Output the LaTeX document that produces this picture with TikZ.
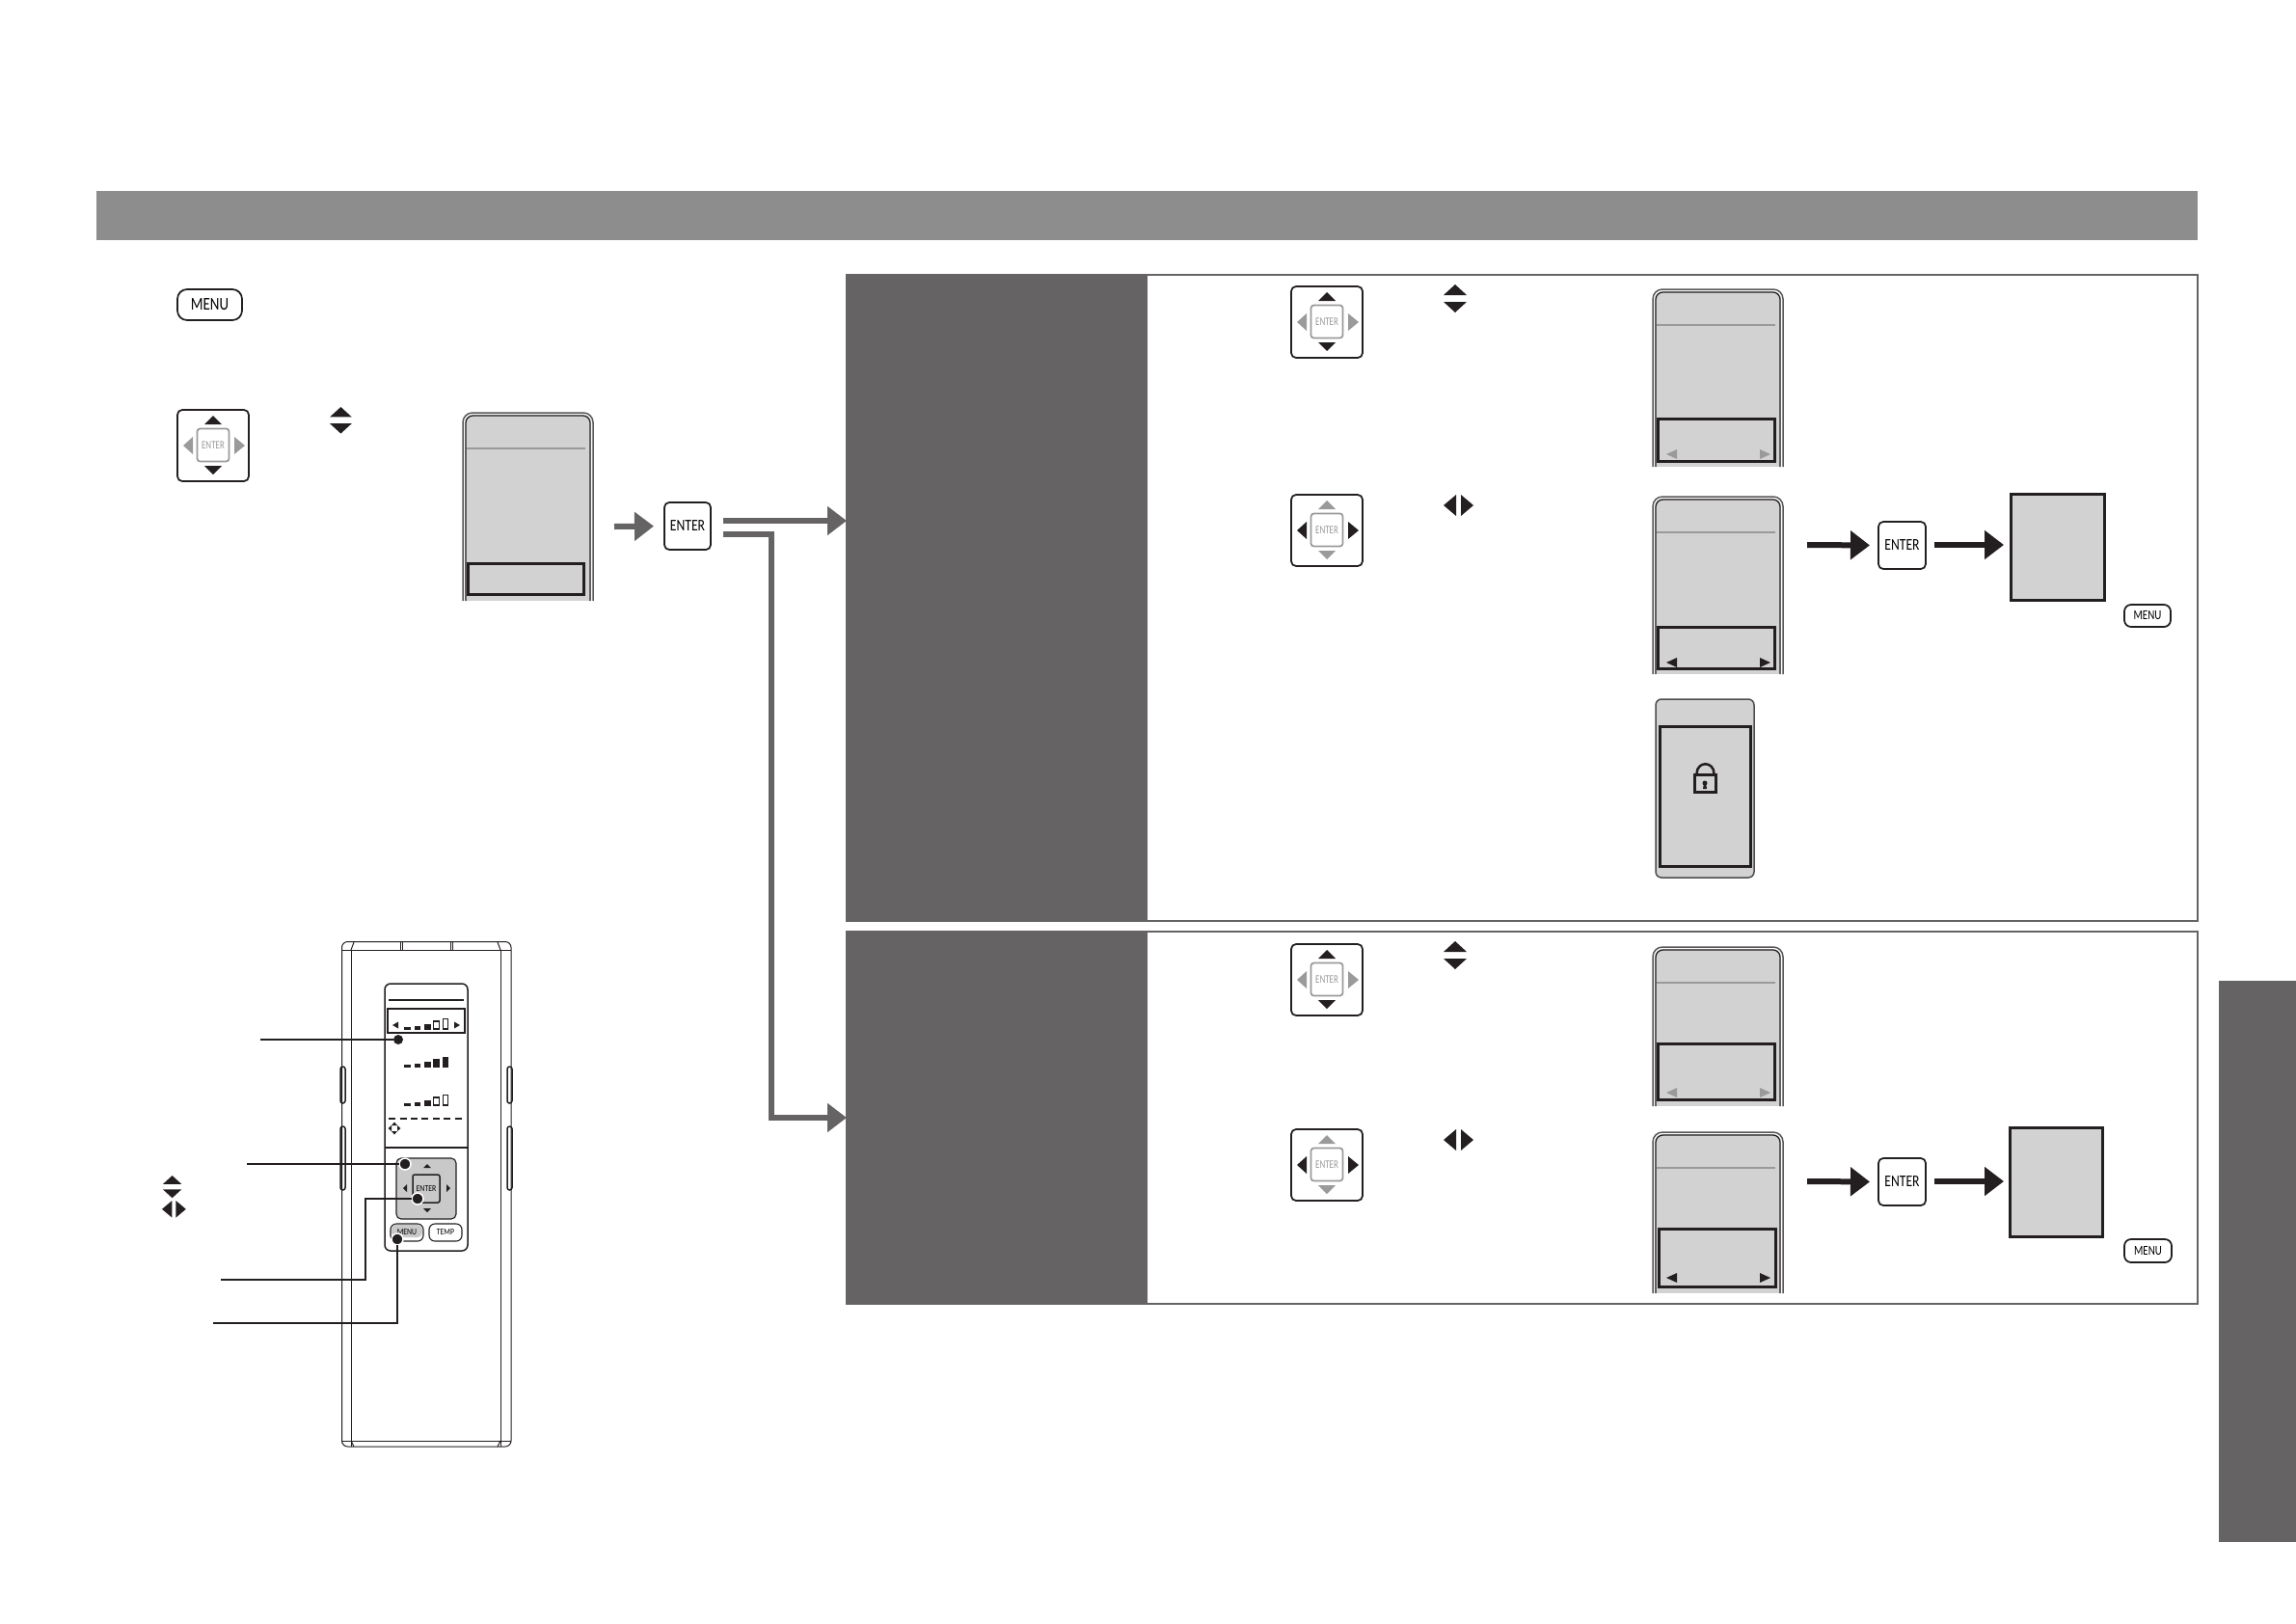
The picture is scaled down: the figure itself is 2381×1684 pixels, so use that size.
\documentclass[tikz,border=0pt]{standalone}
\usepackage{fontspec}
\setmainfont{Carlito}
\usetikzlibrary{arrows.meta}
\definecolor{pan}{HTML}{656363}
\definecolor{band}{HTML}{8E8D8D}
\definecolor{lcd}{HTML}{D2D2D2}
\definecolor{ink}{HTML}{231F20}
\definecolor{dim}{HTML}{9A9A9A}
\tikzset{
  x=0.02cm,y=-0.02cm,
  solidbox/.style={inner sep=0pt,outer sep=0pt,fill=#1,draw=none},
  keybox/.style={inner sep=0pt,outer sep=0pt,draw=ink,fill=white,line width=0.035cm,rounded corners=0.1cm},
  selbox/.style={inner sep=0pt,outer sep=0pt,draw=ink,line width=0.06cm},
  garrow/.style={draw=pan,line width=0.12cm,-{Triangle[length=0.4cm,width=0.58cm,fill=pan]}},
  barrow/.style={draw=ink,line width=0.12cm,-{Triangle[length=0.4cm,width=0.58cm,fill=ink]}},
  leader/.style={draw=ink,line width=0.03cm},
  leaderb/.style={draw=ink,line width=0.05cm},
  dot/.style={circle,fill=ink,inner sep=0pt,outer sep=0pt,minimum size=0.2cm},
  ringdot/.style={circle,fill=ink,draw=white,line width=0.03cm,inner sep=0pt,outer sep=0pt,minimum size=0.24cm},
}
% rectangle node by corners: name, x1,y1,x2,y2, style, text
\newcommand\bx[7][]{%
  \pgfmathsetmacro\bw{(#4-#2)*0.02}\pgfmathsetmacro\bh{(#5-#3)*0.02}%
  \node[minimum width=\bw cm,minimum height=\bh cm,#6] (#1) at ({(#2+#4)/2},{(#3+#5)/2}) {#7};}
\newcommand\enterlabel{\fontsize{9.7pt}{10pt}\selectfont\scalebox{0.8}[1]{ENTER}}
\newcommand\menulabel{\fontsize{10.6pt}{11pt}\selectfont\scalebox{0.8}[1]{MENU}}
\newcommand\smallmenu{\fontsize{8pt}{9pt}\selectfont\scalebox{0.78}[1]{MENU}}
% dpad: name, left x, top y, up/down colour, left/right colour
\newcommand\dpad[5]{%
  \begin{scope}[shift={(#2,#3)}]
    \bx[#1]{1}{1}{75}{75}{keybox}{}
    \bx[#1c]{21.5}{20.5}{54.5}{54.5}{inner sep=0pt,draw=dim,fill=white,line width=0.035cm,rounded corners=0.06cm}{\fontsize{6.8pt}{7pt}\selectfont\textcolor{dim}{\scalebox{0.75}[1]{ENTER}}}
    \fill[#4] (38,7)--(47,16)--(29,16)--cycle;
    \fill[#4] (38,68)--(47,59)--(29,59)--cycle;
    \fill[#5] (7,38)--(17,29)--(17,47)--cycle;
    \fill[#5] (71,38)--(60,29)--(60,47)--cycle;
  \end{scope}}
% up/down icon and left/right icon
\newcommand\udicon[3]{\begin{scope}[shift={(#1,#2)},scale=#3]
  \fill[ink] (12,0)--(24,11)--(0,11)--cycle;
  \fill[ink] (12,29)--(24,18)--(0,18)--cycle;
\end{scope}}
\newcommand\lricon[3]{\begin{scope}[shift={(#1,#2)},scale=#3]
  \fill[ink] (0,11)--(13,0)--(13,22)--cycle;
  \fill[ink] (31,11)--(18,0)--(18,22)--cycle;
\end{scope}}
% lcd with open bottom: left x, top y, right x, bottom y, line y
\newcommand\lcdscreen[5]{%
  \fill[lcd,rounded corners=0.14cm] (#1+1,#4+8) -- (#1+1,#2+1) -- (#3-1,#2+1) -- (#3-1,#4+8);
  \fill[white] (#1-2,#4) rectangle (#3+2,#4+10);
  \draw[ink!75,line width=0.03cm,rounded corners=0.2cm] (#1,#4)--(#1,#2)--(#3,#2)--(#3,#4);
  \draw[white,line width=0.02cm,rounded corners=0.17cm] (#1+1.6,#4)--(#1+1.6,#2+1.6)--(#3-1.6,#2+1.6)--(#3-1.6,#4);
  \draw[ink,line width=0.025cm,rounded corners=0.15cm] (#1+3,#4)--(#1+3,#2+3)--(#3-3,#2+3)--(#3-3,#4);
  \draw[dim,line width=0.05cm] (#1+4,#5)--(#3-8,#5);}
% selection row triangles: y, colour
\newcommand\seltris[2]{%
  \fill[#2] (1728,#1)--(1739,#1-5)--(1739,#1+5)--cycle;
  \fill[#2] (1836,#1)--(1825,#1-5)--(1825,#1+5)--cycle;}
% remote bar rows
\newcommand\barsbase[1]{%
  \fill[ink] (419,#1-3)rectangle(426,#1);
  \fill[ink] (430,#1-4)rectangle(436,#1);
  \fill[ink] (440,#1-6)rectangle(447,#1);}
\newcommand\barsempty[1]{\barsbase{#1}
  \draw[ink,line width=0.022cm] (449.5,#1-8.5)rectangle(455.5,#1-0.5);
  \draw[ink,line width=0.022cm] (459.5,#1-11)rectangle(464.5,#1-0.5);}
\newcommand\barsfull[1]{\barsbase{#1}
  \fill[ink] (449,#1-9)rectangle(456,#1);
  \fill[ink] (459,#1-11)rectangle(465,#1);}
\begin{document}
\begin{tikzpicture}
\useasboundingbox (0,0) rectangle (2381,1684);
\fill[white] (0,0) rectangle (2381,1684);
% band and side tab
\bx[bandtop]{100}{198}{2279}{249}{solidbox=band}{}
\bx[sidetab]{2301}{1017}{2381}{1599}{solidbox=pan}{}
% panels
\draw[pan,line width=0.05cm] (878,285) rectangle (2279,955);
\draw[pan,line width=0.05cm] (878,966) rectangle (2279,1352);
\bx[pan1]{878}{284}{1190}{955}{solidbox=pan}{}
\bx[pan2]{878}{966}{1190}{1352}{solidbox=pan}{}
% left column
\bx[menuA]{184}{300}{251}{332}{keybox,rounded corners=0.2cm}{\menulabel}
\dpad{padA}{183}{424}{ink}{dim}
\udicon{342}{422}{0.95}
\lcdscreen{480}{428}{615}{623}{465}
\bx[selA]{485.5}{584.5}{605.5}{616.5}{selbox}{}
\bx[enterA]{689}{521}{737}{570}{keybox}{\enterlabel}
\coordinate (ga) at (637,546);
\draw[garrow,shorten >=0.22cm] (ga) -- (enterA.west);
\coordinate (j1) at (750,540);
\coordinate (j2) at (750,554);
\coordinate (j2t) at (800,554);
\coordinate (j2b) at (800,1159);
\draw[garrow] (j1) -- (pan1.west |- j1);
\draw[garrow] (j2) -- (j2t) -- (j2b) -- (pan2.west);
% panel 1, step 1
\dpad{padB}{1338}{296}{ink}{dim}
\udicon{1497}{295}{1}
\lcdscreen{1714}{300}{1849}{484}{337}
\bx[selB]{1719.5}{434.5}{1840.5}{478.5}{selbox}{}
\seltris{471}{dim}
% panel 1, step 2
\dpad{padC}{1338}{512}{dim}{ink}
\lricon{1497}{513}{1}
\lcdscreen{1714}{515}{1849}{699}{552}
\bx[selC]{1719.5}{650.5}{1840.5}{693.5}{selbox}{}
\seltris{687}{ink}
\bx[enterC]{1948}{541}{1997}{590}{keybox}{\enterlabel}
\bx[resC]{2085.5}{512.5}{2182.5}{622.5}{fill=lcd,draw=ink,line width=0.06cm,inner sep=0pt,outer sep=0pt}{}
\bx[menuC]{2203}{627}{2251}{650}{keybox,rounded corners=0.14cm}{\smallmenu}
\coordinate (c1) at (1874,565);
\coordinate (c2) at (2006,565);
\draw[barrow,shorten >=0.18cm] (c1) -- (enterC.west);
\draw[barrow,shorten >=0.15cm] (c2) -- (resC.west |- c2);
% lock screen
\bx[lockO]{1717}{725}{1819}{910}{fill=lcd,draw=ink!80,line width=0.03cm,rounded corners=0.12cm,inner sep=0pt,outer sep=0pt}{}
\bx[lockI]{1721.5}{753.5}{1815.5}{898.5}{selbox}{}
\draw[ink,line width=0.07cm] (1757.5,803.5) rectangle (1779.5,821.5);
\draw[ink,line width=0.05cm] (1759.5,802) .. controls (1760,789) and (1777,789) .. (1777.5,802);
\fill[ink] (1768,812) circle (2.5);
\fill[ink] (1767,812) -- (1769,812) -- (1770,818) -- (1766,818) -- cycle;
% panel 2, step 1
\dpad{padD}{1338}{978}{ink}{dim}
\udicon{1497}{976}{1}
\lcdscreen{1714}{982}{1849}{1147}{1019}
\bx[selD]{1719.5}{1082.5}{1840.5}{1140.5}{selbox}{}
\seltris{1133}{dim}
% panel 2, step 2
\dpad{padE}{1338}{1170}{dim}{ink}
\lricon{1497}{1171}{1}
\lcdscreen{1714}{1174}{1849}{1341}{1211}
\bx[selE]{1720.5}{1274.5}{1841.5}{1334.5}{selbox}{}
\seltris{1325}{ink}
\bx[enterE]{1948}{1201}{1997}{1250}{keybox}{\enterlabel}
\bx[resE]{2084.5}{1169.5}{2180.5}{1282.5}{fill=lcd,draw=ink,line width=0.06cm,inner sep=0pt,outer sep=0pt}{}
\bx[menuE]{2203}{1285}{2252}{1309}{keybox,rounded corners=0.14cm}{\smallmenu}
\coordinate (e1) at (1874,1225);
\coordinate (e2) at (2006,1225);
\draw[barrow,shorten >=0.18cm] (e1) -- (enterE.west);
\draw[barrow,shorten >=0.13cm] (e2) -- (resE.west |- e2);
% remote
\begin{scope}[ink,line width=0.02cm]
  \draw[rounded corners=0.12cm] (354.5,976.5) rectangle (530,1500);
  \draw (354,985)--(530,985);
  \draw (364,985)--(364,1500);
  \draw (519,985)--(519,1500);
  \draw (354,1494)--(530,1494);
  \draw (364,985)--(367,977) (519,985)--(516,977);
  \draw (415,977)--(415,985) (417,977)--(417,985);
  \draw (467,977)--(467,985) (469,977)--(469,985);
  \draw (364,1494)--(367,1500) (519,1494)--(516,1500);
  \draw[line width=0.03cm,rounded corners=0.05cm] (353,1106) rectangle (358,1144);
  \draw[line width=0.03cm,rounded corners=0.05cm] (353,1168) rectangle (358,1234);
  \draw[line width=0.03cm,rounded corners=0.05cm] (526,1106) rectangle (531,1144);
  \draw[line width=0.03cm,rounded corners=0.05cm] (526,1168) rectangle (531,1234);
\end{scope}
\draw[ink,line width=0.03cm,rounded corners=0.12cm] (399,1020) rectangle (485,1297);
\draw[ink,line width=0.022cm] (399,1190)--(485,1190);
\draw[ink,line width=0.022cm] (403,1037)--(481,1037);
\bx[remSel]{402}{1046}{482}{1071}{inner sep=0pt,outer sep=0pt,draw=ink,line width=0.022cm}{}
\fill[ink] (407,1063)--(413,1059.5)--(413,1066.5)--cycle;
\fill[ink] (477,1063)--(471,1059.5)--(471,1066.5)--cycle;
\barsempty{1067.5}
\barsfull{1107}
\barsempty{1146.5}
\draw[ink,line width=0.022cm,dash pattern=on 0.14cm off 0.09cm] (403,1160)--(479,1160);
\fill[ink] (409,1163.5)--(412,1167)--(406,1167)--cycle;
\fill[ink] (409,1176.5)--(412,1173)--(406,1173)--cycle;
\fill[ink] (402.5,1170)--(406,1167)--(406,1173)--cycle;
\fill[ink] (415.5,1170)--(412,1167)--(412,1173)--cycle;
\bx[remPad]{411}{1201}{473}{1264}{fill=lightgray!85,draw=ink,line width=0.022cm,rounded corners=0.1cm,inner sep=0pt,outer sep=0pt}{}
\bx[remEnter]{428}{1218}{456}{1247}{inner sep=0pt,outer sep=0pt,draw=ink,line width=0.03cm,rounded corners=0.04cm}{\fontsize{5.2pt}{6pt}\selectfont\scalebox{0.85}[1]{ENTER}}
\fill[ink] (443,1207)--(447,1211)--(439,1211)--cycle;
\fill[ink] (443,1257)--(447,1253)--(439,1253)--cycle;
\fill[ink] (418,1232)--(422,1228)--(422,1236)--cycle;
\fill[ink] (467,1232)--(463,1228)--(463,1236)--cycle;
\bx[remMenu]{405}{1269}{439}{1287}{fill=white,draw=ink,line width=0.022cm,rounded corners=0.12cm,inner sep=0pt,outer sep=0pt}{}
\fill[lightgray!85,rounded corners=0.1cm] (406,1270) rectangle (438,1283);
\node[inner sep=0pt] (remMenuT) at (remMenu.center) {\fontsize{5.2pt}{6pt}\selectfont\scalebox{0.85}[1]{MENU}};
\bx[remTemp]{445}{1269}{479}{1287}{fill=white,draw=ink,line width=0.022cm,rounded corners=0.12cm,inner sep=0pt,outer sep=0pt}{\fontsize{5.2pt}{6pt}\selectfont\scalebox{0.85}[1]{TEMP}}
% leaders
\node[dot] (d1) at (413,1078) {};
\node[ringdot] (d2) at (420,1207) {};
\node[ringdot] (d3) at (433,1243) {};
\node[ringdot] (d4) at (412,1285) {};
\coordinate (l1) at (270,1078);
\coordinate (l2) at (256,1207);
\coordinate (l3) at (229,1327);
\coordinate (l3a) at (379,1327);
\coordinate (l3b) at (379,1243);
\coordinate (l4) at (221,1372);
\coordinate (l4a) at (412,1372);
\draw[leader] (l1) -- (d1);
\draw[leader] (l2) -- (d2);
\draw[leader] (l3) -- (l3a) -- (l3b) -- (d3);
\draw[leaderb] (l4) -- (l4a) -- (d4);
% legend icons
\udicon{169}{1219}{0.8}
\lricon{168}{1245}{0.8}
\end{tikzpicture}
\end{document}
